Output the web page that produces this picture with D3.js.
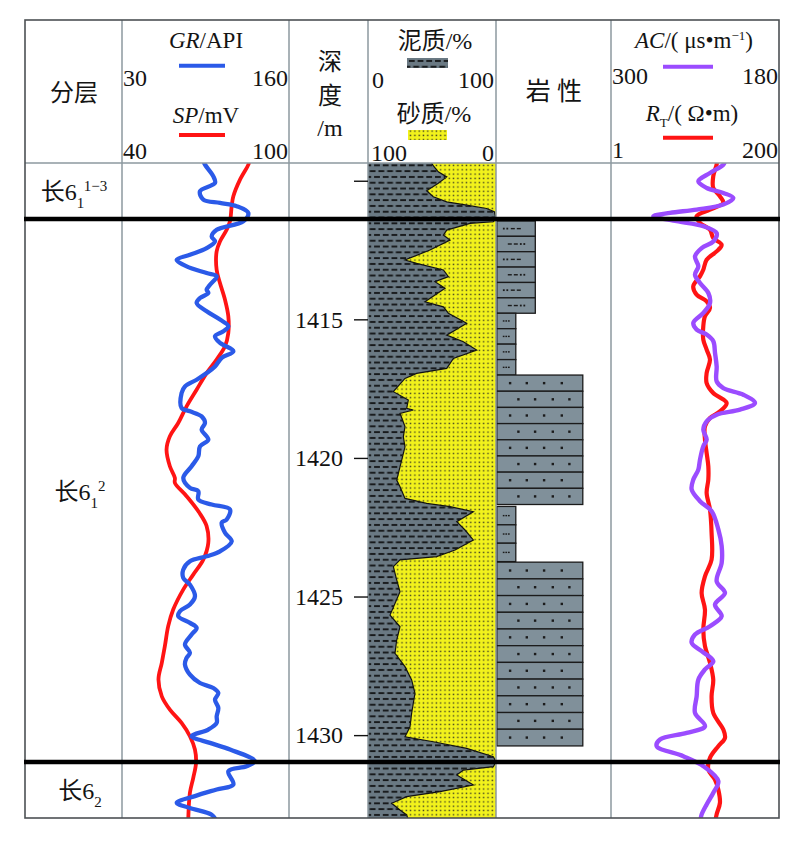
<!DOCTYPE html>
<html><head><meta charset="utf-8">
<script src="https://cdn.jsdelivr.net/npm/d3@7"></script>
<style>body{margin:0;background:#fff}</style>
</head><body>
<svg id="c" width="800" height="844"></svg>
<script>
// ---------------- data ----------------
const zoneBase = ["长6", "长6", "长6"];
const zoneSub  = ["1", "1", "2"];
const zoneSup  = ["1−3", "2", ""];
const zoneTop    = [1409.36, 1411.38, 1430.97];
const zoneBottom = [1411.38, 1430.97, 1432.99];

const depthTicks = [1410, 1415, 1420, 1425, 1430];

const grDomain = [30, 160];
const spDomain = [40, 100];
const mudDomain = [0, 100];
const sandDomain = [100, 0];
const acDomain = [300, 180];
const rtDomain = [1, 200];

const grDepth = [1409.30,1409.42,1409.84,1410.08,1410.38,1410.68,1410.80,1410.92,1411.16,1411.46,
 1411.77,1412.01,1412.19,1412.43,1412.67,1412.85,1413.09,1413.33,1413.45,1413.75,
 1413.93,1414.05,1414.23,1414.41,1414.71,1415.01,1415.25,1415.43,1415.61,1415.85,
 1416.15,1416.39,1416.70,1416.94,1417.18,1417.42,1417.66,1418.20,1418.32,1418.50,
 1418.74,1418.98,1419.34,1419.58,1419.94,1420.30,1420.72,1421.08,1421.20,1421.50,
 1421.68,1421.86,1422.22,1422.34,1422.70,1423.01,1423.37,1423.55,1423.73,1424.03,
 1424.33,1424.57,1424.99,1425.29,1425.53,1425.71,1425.95,1426.13,1426.37,1426.73,
 1427.03,1427.21,1427.45,1427.82,1428.12,1428.30,1428.48,1428.72,1429.02,1429.32,
 1429.56,1429.80,1430.04,1430.28,1430.52,1430.94,1431.12,1431.30,1431.78,1431.96,
 1432.20,1432.44,1432.63,1432.87,1433.05];
const grValue = [93.5,94.6,101.1,102.4,90.7,93.3,106.3,119.3,128.3,124.4,
 103.7,99.8,102.4,95.9,82.9,72.6,80.3,95.9,103.7,98.5,
 95.9,97.2,90.7,88.1,95.9,106.3,112.8,108.9,102.4,106.3,
 116.7,107.6,102.4,95.9,88.1,79,76.4,76.4,82.9,92,
 94.6,92,97.2,90.7,89.4,84.2,77.7,82.9,89.4,89.4,
 99.8,114.1,111.5,107.6,110.2,115.4,106.3,95.9,82.9,77.7,
 77.7,82.9,86.8,82.9,75.1,73.8,82.9,88.1,84.2,79,
 82.9,80.3,79,82.9,90.7,101.1,105,102.4,105,103.7,
 103.7,97.2,84.2,98.5,114.1,133.5,127,112.8,116.7,103.7,
 86.8,72.6,82.9,99.8,103];

const spDepth = [1409.30,1409.42,1409.96,1410.56,1410.92,1411.46,1411.77,1412.19,1412.55,1413.21,
 1413.69,1414.29,1414.89,1415.49,1415.97,1416.45,1416.94,1417.54,1418.14,1418.74,
 1419.22,1419.70,1420.30,1420.72,1420.90,1421.38,1421.98,1422.46,1423.07,1423.67,
 1424.21,1424.75,1425.47,1426.07,1426.79,1427.39,1427.99,1428.60,1429.08,1429.56,
 1430.04,1430.52,1431.00,1431.54,1432.08,1433.05];
const spValue = [85.7,85.4,82.4,80,79.4,78.8,77.6,75.2,74,74,
 75.2,77,78.2,78.2,77,74,70.4,66.8,63.2,60.2,
 57.2,56,57.2,59,59,63.2,67.8,70.4,71,69.2,
 65.6,62,58.4,56.6,55.4,54.3,53.1,54.3,57.2,61.4,
 64.4,66.2,66.6,65.6,64.4,63.8];

const mudDepth = [1409.36,1409.43,1409.68,1409.86,1410.09,1410.36,1410.58,1410.76,1410.88,1411.00,
 1411.12,1411.36,1411.48,1411.54,1411.78,1411.96,1412.14,1412.50,1412.86,1412.98,
 1413.22,1413.46,1413.64,1413.88,1414.37,1414.55,1414.78,1415.14,1415.57,1415.81,
 1416.11,1416.41,1416.77,1416.95,1417.13,1417.61,1417.91,1418.21,1418.27,1418.39,
 1418.87,1419.24,1419.60,1420.32,1420.80,1421.04,1421.46,1421.64,1421.76,1421.94,
 1422.30,1422.60,1422.96,1423.32,1423.56,1423.68,1423.92,1424.40,1424.83,1425.67,
 1426.09,1426.57,1427.05,1427.53,1428.01,1428.49,1429.21,1429.70,1430.06,1430.24,
 1430.48,1430.78,1430.96,1431.14,1431.26,1431.44,1431.80,1432.04,1432.22,1432.46,
 1432.70,1432.88,1432.99];
const mudPct = [49.7,50.5,54.9,61.5,54.9,45.8,51.0,61.5,77.1,92.7,
 98.7,100,97.9,79.7,61.5,58.9,64.1,48.4,28.9,38.0,
 58.9,62.8,52.3,60.2,44.5,58.9,62.8,77.1,61.5,74.5,
 84.9,66.7,61.5,38.0,28.9,19.8,31.5,30.2,35.4,25.0,
 28.9,27.6,28.9,25.0,22.4,25.0,28.9,45.8,64.1,82.3,
 69.3,75.8,82.3,68.0,53.6,25.0,19.8,22.4,25.0,17.2,
 25.0,22.4,21.1,28.9,34.1,36.7,34.1,32.8,28.9,51.0,
 77.1,97.9,100,97.9,74.5,69.3,82.3,56.3,30.2,18.5,
 25.0,30.2,31.0];

const lithType   = ["mudSilt", "silt", "sand", "silt", "sand"];
const lithTop    = [1411.45, 1414.78, 1417.01, 1421.75, 1423.76];
const lithBottom = [1414.78, 1417.01, 1421.68, 1423.74, 1430.39];
const lithBeds   = [6, 4, 8, 3, 11];

const acDepth = [1409.30,1409.42,1409.72,1410.02,1410.26,1410.44,1410.62,1410.86,1411.04,1411.16,
 1411.28,1411.46,1411.64,1411.89,1412.19,1412.43,1412.73,1413.09,1413.39,1413.69,
 1414.05,1414.41,1414.77,1415.13,1415.37,1415.55,1415.79,1416.21,1416.70,1417.24,
 1417.48,1417.72,1418.02,1418.26,1418.44,1418.68,1418.98,1419.34,1419.58,1420.06,
 1420.42,1420.78,1421.14,1421.56,1421.92,1422.58,1423.18,1423.79,1424.45,1424.87,
 1425.29,1425.71,1426.07,1426.37,1426.67,1426.97,1427.33,1427.63,1428.00,1428.60,
 1429.20,1429.68,1429.92,1430.16,1430.40,1430.76,1431.12,1431.66,1432.08,1432.50,
 1432.86,1433.05];
const acValue = [218.4,219.6,229.2,237.6,231.6,219.6,212.4,219.6,238.8,258,
 270,253.2,234,224.4,226.8,235.2,240,237.6,240,236.4,
 230.4,229.2,234,241.2,238.8,231.6,226.8,225.6,224.4,224.4,
 219.6,205.2,196.8,207.6,224.4,231.6,234,231.6,234,236.4,
 237.6,241.2,242.4,236.4,228,223.2,220.8,220.8,224.4,218.4,
 225.6,220.8,229.2,240,242.4,235.2,226.8,232.8,237.6,238.8,
 240,232.8,246,265.2,267.6,248.4,234,223.2,226.8,231.6,
 235.2,236];

const rtDepth = [1409.30,1409.42,1409.84,1410.26,1410.56,1410.80,1411.04,1411.28,1411.52,1411.77,
 1412.07,1412.31,1412.55,1412.85,1413.21,1413.45,1413.81,1414.11,1414.35,1414.59,
 1414.89,1415.25,1415.73,1416.09,1416.45,1416.94,1417.30,1417.66,1418.02,1418.32,
 1418.56,1418.86,1419.34,1419.82,1420.30,1420.78,1421.26,1421.86,1422.70,1423.67,
 1424.27,1424.87,1425.47,1426.19,1426.79,1427.39,1428.00,1428.60,1429.20,1429.80,
 1430.10,1430.40,1430.82,1431.24,1431.60,1431.96,1432.44,1432.86,1433.05];
const rtValue = [127,126.3,122.3,122.3,130.3,134.3,118.4,102.4,106.4,118.4,
 122.3,132.3,126.3,114.4,110.4,106.4,98.4,102.4,114.4,118.4,
 112.4,110.4,110.4,114.4,118.4,114.4,114.4,122.3,138.3,130.3,
 118.4,112.4,112.4,114.4,116.4,116.4,114.4,118.4,120.3,120.3,
 112.4,108.4,112.4,110.4,112.4,118.4,122.3,120.3,122.3,134.3,
 136.3,128.3,118.4,116.4,124.3,128.3,130.3,126.3,125];

// ---------------- layout ----------------
const FONT = "'Liberation Serif','Noto Sans CJK SC',serif";
const L = 25, R = 779, TOP = 20, HB = 163, BOT = 818;
const cols = [25, 122, 289, 368, 496, 611, 779];
const GRID = "#8c999f";
const BLUE = "#2b5ae8", RED = "#ff1414", PURPLE = "#9b4cff";

const svg = d3.select("#c");
const y = d3.scaleLinear().domain([zoneTop[0], zoneBottom[2]]).range([HB, BOT]);
const grX = d3.scaleLinear().domain(grDomain).range([cols[1], cols[2]]);
const spX = d3.scaleLinear().domain(spDomain).range([cols[1], cols[2]]);
const mudX = d3.scaleLinear().domain(mudDomain).range([cols[3], cols[4]]);
const sandX = d3.scaleLinear().domain(sandDomain).range([cols[3], cols[4]]);
const acX = d3.scaleLinear().domain(acDomain).range([611.7, 778.3]);
const rtX = d3.scaleLinear().domain(rtDomain).range([611.7, 778.3]);
const lithW = d3.scaleOrdinal().domain(["silt", "mudSilt", "sand"]).range([19, 38.5, 86]);

// ---------------- patterns ----------------
const defs = svg.append("defs");
const pm = defs.append("pattern").attr("id", "mud").attr("patternUnits", "userSpaceOnUse")
  .attr("width", 8.7).attr("height", 11.6);
pm.append("rect").attr("width", 8.7).attr("height", 11.6).attr("fill", "#6a7983");
[[0, 2.0], [4.35, 7.8], [-4.35, 7.8]].forEach(([dx, dy]) =>
  pm.append("rect").attr("x", dx).attr("y", dy).attr("width", 5.8).attr("height", 1.9).attr("fill", "#16181a"));
const ps = defs.append("pattern").attr("id", "sand").attr("patternUnits", "userSpaceOnUse")
  .attr("width", 4.3).attr("height", 4.3);
ps.append("rect").attr("width", 4.3).attr("height", 4.3).attr("fill", "#f2f21c");
ps.append("rect").attr("x", 1.4).attr("y", 1.4).attr("width", 1.4).attr("height", 1.4).attr("fill", "#3a3a22");

function clip(id, x0, x1) {
  defs.append("clipPath").attr("id", id).append("rect")
    .attr("x", x0).attr("y", HB).attr("width", x1 - x0).attr("height", BOT - HB);
}
clip("cGR", cols[1], cols[2]);
clip("cPCT", cols[3], cols[4]);
clip("cAC", cols[5], cols[6]);

svg.append("rect").attr("width", 800).attr("height", 844).attr("fill", "#fff");

// ---------------- mud / sand percentage ----------------
const pct = d3.zip(mudDepth, mudPct).map(([d, m]) => ({ d, m }));
const gP = svg.append("g").attr("clip-path", "url(#cPCT)");
gP.append("path").datum(pct).attr("fill", "url(#mud)")
  .attr("d", d3.area().y(d => y(d.d)).x0(mudX(0)).x1(d => mudX(d.m)));
gP.append("path").datum(pct).attr("fill", "url(#sand)")
  .attr("d", d3.area().y(d => y(d.d)).x0(d => sandX(100 - d.m)).x1(sandX(0)));
gP.append("path").datum(pct).attr("fill", "none").attr("stroke", "#111").attr("stroke-width", 1.2)
  .attr("d", d3.line().y(d => y(d.d)).x(d => mudX(d.m)));

// ---------------- lithology ----------------
const gL = svg.append("g");
lithType.forEach((t, gi) => {
  const n = lithBeds[gi], h = (lithBottom[gi] - lithTop[gi]) / n;
  const x0 = cols[4] + 0.8, w = lithW(t);
  for (let i = 0; i < n; i++) {
    const d0 = lithTop[gi] + i * h, d1 = d0 + h;
    const y0 = y(d0), y1 = y(d1), cy = (y0 + y1) / 2;
    gL.append("rect").attr("x", x0).attr("y", y0).attr("width", w).attr("height", y1 - y0)
      .attr("fill", "#80909a").attr("stroke", "#1b1b1b").attr("stroke-width", 1.3);
    const sym = gL.append("g").attr("fill", "#1b1b1b");
    if (t === "sand") {
      const xs = i % 2 === 0 ? [13.3, 30, 47.3, 65] : [21.6, 38.3, 56, 72.6];
      xs.forEach(dx => sym.append("rect").attr("x", x0 + dx - 1.2).attr("y", cy - 1.2).attr("width", 2.4).attr("height", 2.4));
    } else if (t === "silt") {
      [6, 8.6, 11.2].forEach(dx => sym.append("rect").attr("x", x0 + dx).attr("y", cy - 0.7).attr("width", 1.7).attr("height", 1.4));
    } else {
      const items = i % 2 === 0 ? [["d", 7], ["d", 10.5], ["l", 14], ["l", 20]] : [["l", 11], ["l", 17], ["d", 24], ["d", 27.5]];
      items.forEach(([k, dx]) => {
        if (k === "d") sym.append("rect").attr("x", x0 + dx - 0.9).attr("y", cy - 0.9).attr("width", 1.8).attr("height", 1.8);
        else sym.append("rect").attr("x", x0 + dx).attr("y", cy - 0.7).attr("width", 4).attr("height", 1.4);
      });
    }
  }
});

// ---------------- curves ----------------
function curve(g, ds, vs, sx, color, w) {
  const data = d3.zip(ds, vs);
  g.append("path").datum(data).attr("fill", "none").attr("stroke", color).attr("stroke-width", w)
    .attr("stroke-linejoin", "round").attr("stroke-linecap", "round")
    .attr("d", d3.line().x(d => sx(d[1])).y(d => y(d[0])).curve(d3.curveCatmullRom.alpha(0.5)));
}
const gG = svg.append("g").attr("clip-path", "url(#cGR)");
curve(gG, spDepth, spValue, spX, RED, 3.8);
curve(gG, grDepth, grValue, grX, BLUE, 4.3);
const gA = svg.append("g").attr("clip-path", "url(#cAC)");
curve(gA, rtDepth, rtValue, rtX, RED, 4.2);
curve(gA, acDepth, acValue, acX, PURPLE, 4.4);

// ---------------- grid ----------------
const gridG = svg.append("g");
cols.slice(1, -1).forEach(x => gridG.append("line").attr("x1", x).attr("x2", x).attr("y1", TOP).attr("y2", BOT)
  .attr("stroke", GRID).attr("stroke-width", 1.5));
gridG.append("line").attr("x1", L).attr("x2", R).attr("y1", HB).attr("y2", HB).attr("stroke", GRID).attr("stroke-width", 1.5);
gridG.append("rect").attr("x", L).attr("y", TOP).attr("width", R - L).attr("height", BOT - TOP)
  .attr("fill", "none").attr("stroke", "#4d5154").attr("stroke-width", 1.6);
zoneTop.slice(1).forEach(d => gridG.append("line").attr("x1", L - 1).attr("x2", R + 1).attr("y1", y(d)).attr("y2", y(d))
  .attr("stroke", "#000").attr("stroke-width", 4.5));

// ---------------- depth axis ----------------
const ax = svg.append("g").attr("transform", `translate(${cols[3]},0)`)
  .call(d3.axisLeft(y).tickValues(depthTicks).tickSize(14).tickPadding(11)
    .tickFormat(d => d === depthTicks[0] ? "" : d));
ax.select(".domain").remove();
ax.selectAll("line").attr("stroke", "#111").attr("stroke-width", 1.4);
ax.selectAll("text").attr("font-family", FONT).attr("font-size", 24).attr("fill", "#111");

// ---------------- text ----------------
function label(x, yy, anchor, size, parts) {
  const t = svg.append("text").attr("x", x).attr("y", yy).attr("text-anchor", anchor)
    .attr("font-size", size).attr("font-family", FONT).attr("fill", "#141414");
  parts.forEach(p => {
    const s = t.append("tspan").text(p.t);
    if (p.i) s.attr("font-style", "italic");
    if (p.dy) s.attr("dy", p.dy);
    if (p.fs) s.attr("font-size", p.fs);
  });
  return t;
}
function legendLine(x0, x1, yy, c) {
  svg.append("line").attr("x1", x0).attr("x2", x1).attr("y1", yy).attr("y2", yy).attr("stroke", c).attr("stroke-width", 4);
}

label(74, 101, "middle", 24, [{ t: "分层" }]);

label(206, 48, "middle", 23, [{ t: "GR", i: 1 }, { t: "/API" }]);
legendLine(179, 225, 65.7, BLUE);
label(123, 86, "start", 24, [{ t: grDomain[0] }]);
label(288, 86, "end", 24, [{ t: grDomain[1] }]);
label(206, 123, "middle", 23, [{ t: "SP", i: 1 }, { t: "/mV" }]);
legendLine(179, 225, 135, RED);
label(123, 159, "start", 24, [{ t: spDomain[0] }]);
label(288, 159, "end", 24, [{ t: spDomain[1] }]);

label(330, 70, "middle", 24, [{ t: "深" }]);
label(330, 104, "middle", 24, [{ t: "度" }]);
label(330, 136, "middle", 24, [{ t: "/m" }]);

label(435, 49, "middle", 24, [{ t: "泥质/%" }]);
svg.append("rect").attr("x", 407).attr("y", 58).attr("width", 41).attr("height", 10).attr("fill", "url(#mud)");
label(372, 88, "start", 24, [{ t: mudDomain[0] }]);
label(494, 88, "end", 24, [{ t: mudDomain[1] }]);
label(434, 122, "middle", 24, [{ t: "砂质/%" }]);
svg.append("rect").attr("x", 408).attr("y", 130).attr("width", 39).attr("height", 10).attr("fill", "url(#sand)");
label(371, 161, "start", 24, [{ t: sandDomain[0] }]);
label(494, 161, "end", 24, [{ t: sandDomain[1] }]);

label(554, 100, "middle", 25, [{ t: "岩 性" }]);

label(694, 48, "middle", 23, [{ t: "AC", i: 1 }, { t: "/( μs•m" }, { t: "−1", dy: -8, fs: 13 }, { t: ")", dy: 8 }]);
legendLine(663, 713, 66.7, PURPLE);
label(612, 84, "start", 24, [{ t: acDomain[0] }]);
label(778, 84, "end", 24, [{ t: acDomain[1] }]);
label(692, 121, "middle", 23, [{ t: "R", i: 1 }, { t: "T", dy: 6, fs: 13 }, { t: "/( Ω•m)", dy: -6 }]);
legendLine(663, 713, 137.7, RED);
label(612, 158, "start", 24, [{ t: rtDomain[0] }]);
label(778, 158, "end", 24, [{ t: rtDomain[1] }]);

// zone labels
zoneBase.forEach((b, i) => {
  const cy = (y(zoneTop[i]) + y(zoneBottom[i])) / 2 + 9;
  const parts = [{ t: b }, { t: zoneSub[i], dy: 8, fs: 15 }];
  if (zoneSup[i]) parts.push({ t: zoneSup[i], dy: -17, fs: 15 });
  label(i === 0 ? 74 : 80, cy, "middle", 24, parts);
});
</script>
</body></html>
